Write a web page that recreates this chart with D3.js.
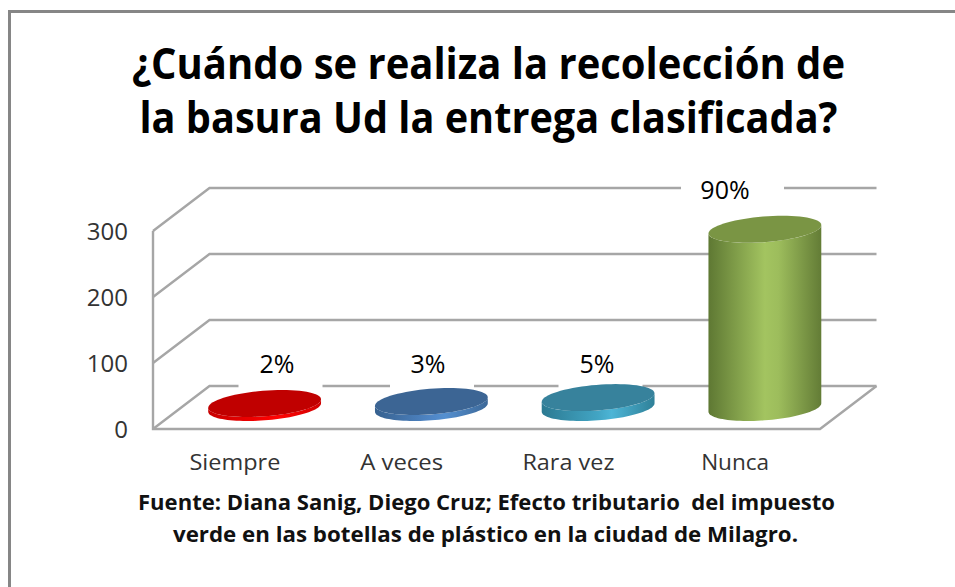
<!DOCTYPE html>
<html><head><meta charset="utf-8">
<style>html,body{margin:0;padding:0;background:#fff}svg{display:block}</style>
<script src="https://cdn.jsdelivr.net/npm/d3@7/dist/d3.min.js"></script>
</head><body><svg id="c" width="955" height="587"></svg>
<script>
const categories = ["Siempre","A veces","Rara vez","Nunca"];
const values = [6,9,15,270];
const percentLabels = ["2%","3%","5%","90%"];
const yTicks = [0,100,200,300];
const titleLines = ["¿Cuándo se realiza la recolección de","la basura Ud la entrega clasificada?"];
const sourceLines = ["Fuente: Diana Sanig, Diego Cruz; Efecto tributario  del impuesto","verde en las botellas de plástico en la ciudad de Milagro."];

// layout (not data)
const FONT = "'Open Sans','Noto Sans',sans-serif";
const front = {x0:153, x1:820, y0:429, y300:231};
const depth = {x:56.5, y:-43};
const labelCx = [277,428,597,725], boxCx=[280.5,432,600.5,732.5], boxW=[84,84,84,103], labelBase=[373,373,373,199];
const catW=[91,83,92,68];
const palettes = [
 {top:"#c00000", side:["#c80000","#f80000","#ff0505","#d00000"]},
 {top:"#3c6594", side:["#37618f","#4f86c6","#5590d0","#3c6898"]},
 {top:"#37829c", side:["#2c7a92","#42a5c4","#4db5d6","#2f8098"]},
 {top:"#7a9544", side:["#5e7833","#a3c460","#9dbd5c","#637c36"]}
];

const svg = d3.select("#c");
const defs = svg.append("defs");
const x = d3.scaleBand().domain(categories).range([front.x0,front.x1]);
const y = d3.scaleLinear().domain([0,300]).range([front.y0,front.y300]);
const grid="#a6a6a6";

// frame
svg.append("path").attr("d","M9.5,587V11.5H955").attr("fill","none").attr("stroke","#868686").attr("stroke-width",3);

// walls & gridlines
const gl = svg.append("g").attr("fill","none").attr("stroke",grid).attr("stroke-width",2.4);
yTicks.forEach(t=>{
  gl.append("path").attr("d",`M${front.x0},${y(t)}L${front.x0+depth.x},${y(t)+depth.y}H${front.x1+depth.x}`);
});
gl.append("path").attr("d",`M${front.x0},${y(300)}V${y(0)}H${front.x1}L${front.x1+depth.x},${y(0)+depth.y}`);

// label background boxes
svg.append("g").selectAll("rect").data(values).join("rect")
  .attr("x",(d,i)=>boxCx[i]-boxW[i]/2).attr("width",(d,i)=>boxW[i])
  .attr("y",(d,i)=>labelBase[i]-23).attr("height",(d,i)=>i<3?38:30)
  .attr("fill","#fff");

// cylinders
const a=53.6, b=17.6, c=13.5;
const pt=(cx,cy,t)=>[cx+a*Math.cos(t)+b*Math.sin(t), cy-c*Math.sin(t)];
const line=d3.line();
const tL=Math.atan2(-b,-a), tR=Math.atan2(b,a);
function ell(cx,cy){return line(d3.range(0,73).map(i=>pt(cx,cy,i/72*2*Math.PI)))+"Z";}
function body(cx,yb,yt){
  const n=48, lower=d3.range(0,n+1).map(i=>{const t=tL+ (i/n)*Math.PI; return pt(cx,yb,t);});
  const upper=d3.range(0,n+1).map(i=>{const t=tR+ (i/n)*-Math.PI; return pt(cx,yt,t);});
  return line(lower.concat(upper))+"Z";
}
const g=svg.append("g");
categories.forEach((cat,i)=>{
  const p=palettes[i], id="g"+i;
  const gr=defs.append("linearGradient").attr("id",id);
  [0,.5,.62,1].forEach((o,k)=>gr.append("stop").attr("offset",o).attr("stop-color",p.side[k]));
  const cx=x(cat)+x.bandwidth()/2+depth.x/2;
  const yb=y(0)+depth.y/2, yt=y(values[i])+depth.y/2;
  g.append("path").attr("d",body(cx,yb,yt)).attr("fill",`url(#${id})`);
  g.append("path").attr("d",ell(cx,yt)).attr("fill",p.top);
});

// value axis labels
const axis=svg.append("g").attr("transform","translate(128,0)")
  .call(d3.axisLeft(y).tickValues(yTicks).tickSize(0).tickPadding(0));
axis.select(".domain").remove();
axis.selectAll("text").attr("font-family",FONT).attr("font-size",24).attr("fill","#333").attr("dy","0.36em");

// category labels
svg.append("g").selectAll("text").data(categories).join("text")
  .attr("x",d=>x(d)+x.bandwidth()/2-1.5).attr("y",470).attr("text-anchor","middle")
  .attr("font-family",FONT).attr("font-size",21).attr("fill","#333")
  .attr("textLength",(d,i)=>catW[i]).attr("lengthAdjust","spacingAndGlyphs").text(d=>d);

// percent labels
svg.append("g").selectAll("text").data(percentLabels).join("text")
  .attr("x",(d,i)=>labelCx[i]).attr("y",(d,i)=>labelBase[i]).attr("text-anchor","middle")
  .attr("font-family",FONT).attr("font-size",25).attr("fill","#000").text(d=>d);

// title
const titleW=[713,698];
svg.append("g").selectAll("text").data(titleLines).join("text")
  .attr("x",488.5).attr("y",(d,i)=>79+i*54).attr("text-anchor","middle")
  .attr("font-family",FONT).attr("font-weight",700).attr("font-size",43).attr("fill","#000")
  .attr("textLength",(d,i)=>titleW[i]).attr("lengthAdjust","spacingAndGlyphs").text(d=>d);

// source
const srcW=[697,625];
svg.append("g").selectAll("text").data(sourceLines).join("text")
  .attr("x",(d,i)=>i?485.5:486.5).attr("y",(d,i)=>510+i*32).attr("text-anchor","middle").attr("xml:space","preserve")
  .attr("font-family",FONT).attr("font-weight",700).attr("font-size",22).attr("fill","#111")
  .attr("textLength",(d,i)=>srcW[i]).attr("lengthAdjust","spacingAndGlyphs").text(d=>d);
</script></body></html>
